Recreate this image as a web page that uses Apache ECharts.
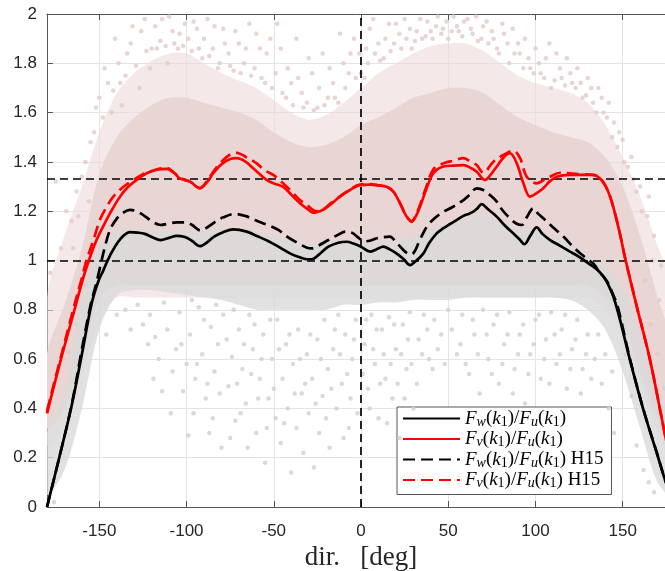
<!DOCTYPE html>
<html>
<head>
<meta charset="utf-8">
<script src="https://cdn.jsdelivr.net/npm/echarts@6/dist/echarts.min.js"></script>
<style>
html,body{margin:0;padding:0;background:#fff;}
#c{width:665px;height:571px;}
</style>
</head>
<body>
<div id="c"></div>
<script>
// ---------- data ----------
const xTicks = [-150, -100, -50, 0, 50, 100, 150];
const refY = [1, 4 / 3];
const refX = [0];

// F_w(k1)/F_u(k1) (solid black)
const fwSolid = [[-180,0.0],[-173,0.2],[-166,0.407],[-160,0.62],[-154.4,0.826],[-150.6,0.915],[-147.7,0.96],[-143.9,1.02],[-138.2,1.085],[-132.5,1.115],[-128,1.113],[-123.9,1.108],[-119,1.092],[-115,1.083],[-110,1.092],[-105.7,1.10],[-101,1.095],[-97,1.08],[-92.3,1.058],[-88,1.075],[-84,1.098],[-79,1.115],[-73.2,1.126],[-66,1.118],[-58.9,1.097],[-53,1.078],[-47.4,1.056],[-41,1.03],[-36,1.015],[-31,1.005],[-28.3,1.005],[-24,1.025],[-18.7,1.056],[-13,1.072],[-8.2,1.076],[-4,1.068],[0,1.056],[5.2,1.036],[9,1.046],[12.8,1.056],[16.5,1.045],[20.5,1.028],[24.5,1.005],[28.1,0.981],[31,0.995],[35.7,1.028],[39,1.07],[43.4,1.11],[47,1.13],[51,1.148],[55,1.165],[58.7,1.181],[62,1.19],[64.4,1.198],[66.5,1.21],[69.2,1.229],[72.5,1.21],[77.8,1.178],[82,1.145],[87.3,1.11],[91,1.085],[93.6,1.066],[97,1.10],[100.7,1.134],[104,1.108],[108.4,1.083],[114,1.06],[119.8,1.036],[125,1.015],[130,0.99],[135.1,0.965],[138.9,0.935],[141.5,0.905],[144.7,0.853],[148.5,0.759],[154.2,0.596],[161.9,0.394],[169.6,0.218],[174.3,0.11],[180,0.0]];

// F_v(k1)/F_u(k1) (solid red)
const fvSolid = [[-180,0.38],[-172,0.60],[-165,0.78],[-159.2,0.93],[-155,1.02],[-151.6,1.083],[-147,1.15],[-143.9,1.191],[-139,1.25],[-134.3,1.293],[-128,1.33],[-122.9,1.354],[-117,1.368],[-111.4,1.372],[-107,1.355],[-103.8,1.333],[-98,1.32],[-92.3,1.293],[-88,1.32],[-84.7,1.354],[-80,1.39],[-75,1.412],[-71.3,1.415],[-66,1.40],[-61.8,1.374],[-54.1,1.327],[-49,1.31],[-44.6,1.299],[-39,1.26],[-35,1.232],[-30,1.205],[-27.4,1.194],[-22,1.205],[-17.8,1.225],[-12,1.26],[-6.3,1.286],[-0.6,1.306],[5,1.308],[10,1.305],[14.7,1.299],[18.5,1.28],[22.4,1.232],[26,1.18],[29.1,1.157],[31.5,1.18],[33.8,1.218],[37.5,1.29],[41.5,1.354],[47.2,1.381],[53,1.385],[58.7,1.387],[63,1.375],[66.3,1.36],[71.1,1.327],[74,1.345],[77.8,1.381],[82,1.42],[85.4,1.435],[89.3,1.394],[93.1,1.313],[96.9,1.259],[100,1.27],[104.5,1.293],[108,1.32],[112.2,1.34],[119.8,1.347],[126,1.347],[133.2,1.347],[137,1.333],[140,1.305],[143,1.255],[146,1.18],[149,1.09],[151.4,1.01],[158.1,0.813],[165.7,0.596],[174.3,0.292],[180,0.1]];

// F_w(k1)/F_u(k1) H15 (dashed black)
const fwH15 = [[-180,0.0],[-173,0.2],[-166,0.41],[-160,0.64],[-155,0.82],[-152,0.90],[-150,0.96],[-147,1.05],[-143.9,1.124],[-140,1.17],[-136,1.195],[-132.5,1.205],[-128,1.198],[-124,1.18],[-119,1.155],[-115,1.144],[-110,1.15],[-105.7,1.155],[-101,1.155],[-97,1.145],[-92,1.122],[-88,1.135],[-84,1.155],[-79,1.175],[-72.2,1.189],[-66,1.18],[-60.8,1.164],[-54,1.145],[-47.4,1.124],[-42,1.095],[-36,1.07],[-31,1.052],[-28.3,1.049],[-24,1.062],[-18.7,1.083],[-13,1.105],[-9,1.117],[-5,1.112],[-1,1.09],[2,1.078],[5,1.08],[9,1.09],[13,1.095],[16.6,1.097],[20,1.075],[24.3,1.043],[27,1.028],[29.1,1.026],[31,1.04],[33.5,1.08],[37.7,1.137],[42,1.17],[47.2,1.198],[52,1.215],[58.7,1.245],[62,1.265],[66.3,1.293],[70.1,1.286],[74,1.265],[77.8,1.239],[81,1.205],[85.4,1.171],[89,1.15],[92.1,1.144],[95,1.175],[98.8,1.212],[101.5,1.19],[104.5,1.171],[110,1.135],[116,1.097],[121,1.06],[125.6,1.029],[130,1.005],[133.5,0.985],[136,0.96],[139,0.935],[141.8,0.907],[144,0.87],[146.6,0.826],[149,0.76],[154.2,0.6],[161.9,0.396],[169.6,0.22],[174.3,0.11],[180,0.0]];

// F_v(k1)/F_u(k1) H15 (dashed red)
const fvH15 = [[-180,0.39],[-172,0.61],[-165,0.80],[-160,0.93],[-157.3,1.002],[-153.5,1.08],[-149.7,1.164],[-146,1.215],[-142,1.259],[-136,1.30],[-130.5,1.327],[-125,1.35],[-121,1.36],[-116,1.372],[-111.4,1.375],[-107,1.355],[-103.8,1.335],[-98,1.32],[-92.3,1.295],[-88,1.325],[-84.7,1.36],[-80,1.40],[-75,1.43],[-71.3,1.437],[-66,1.42],[-59.8,1.394],[-55,1.365],[-50.3,1.347],[-45,1.315],[-40.7,1.286],[-35,1.245],[-31.1,1.225],[-25.4,1.2],[-21,1.21],[-17.8,1.23],[-12,1.26],[-6.3,1.288],[-0.6,1.308],[5,1.31],[10,1.305],[14.7,1.299],[18.5,1.28],[22.4,1.232],[26,1.18],[29.1,1.16],[31.5,1.185],[33.8,1.225],[37.5,1.30],[41.5,1.37],[47.2,1.394],[53,1.405],[58.7,1.415],[63,1.40],[66.3,1.387],[70.1,1.356],[75.9,1.401],[81.6,1.428],[87.3,1.445],[91.2,1.415],[95,1.34],[100.7,1.313],[104.5,1.325],[108.4,1.340],[114.1,1.356],[119.8,1.354],[126,1.35],[133.2,1.347],[137,1.333],[140,1.305],[143,1.255],[146,1.18],[149,1.09],[151.4,1.01],[158.1,0.813],[165.7,0.596],[174.3,0.292],[180,0.1]];

// scatter cloud envelopes (dense regions), [deg, lower, upper]
const pinkOuter = [[-180,0.25,0.85],[-170,0.33,1.10],[-160,0.55,1.30],[-150,0.75,1.52],[-140,0.85,1.68],[-130,0.85,1.76],[-120,0.85,1.81],[-110,0.85,1.84],[-100,0.85,1.84],[-90,0.85,1.80],[-80,0.85,1.76],[-70,0.85,1.73],[-60,0.85,1.70],[-50,0.85,1.65],[-40,0.85,1.60],[-30,0.85,1.57],[-20,0.85,1.59],[-10,0.85,1.64],[0,0.85,1.70],[10,0.85,1.76],[20,0.85,1.80],[30,0.85,1.84],[40,0.85,1.87],[50,0.85,1.88],[60,0.85,1.88],[70,0.85,1.85],[80,0.85,1.80],[90,0.85,1.75],[100,0.85,1.72],[110,0.85,1.70],[120,0.85,1.68],[130,0.85,1.64],[140,0.80,1.55],[150,0.70,1.42],[160,0.50,1.26],[170,0.30,1.06],[180,0.15,0.86]];
const pinkCore = [[-180,0.32,0.62],[-170,0.40,0.82],[-160,0.60,1.05],[-150,0.85,1.35],[-140,0.90,1.50],[-130,0.90,1.58],[-120,0.90,1.63],[-110,0.90,1.66],[-100,0.90,1.66],[-90,0.90,1.64],[-80,0.90,1.62],[-70,0.90,1.60],[-60,0.90,1.57],[-50,0.90,1.52],[-40,0.90,1.48],[-30,0.90,1.46],[-20,0.90,1.47],[-10,0.90,1.50],[0,0.90,1.55],[10,0.90,1.58],[20,0.90,1.62],[30,0.90,1.66],[40,0.90,1.68],[50,0.90,1.70],[60,0.90,1.70],[70,0.90,1.68],[80,0.90,1.63],[90,0.90,1.58],[100,0.90,1.55],[110,0.90,1.52],[120,0.90,1.50],[130,0.90,1.48],[140,0.85,1.42],[150,0.75,1.30],[160,0.55,1.10],[170,0.35,0.85],[180,0.20,0.62]];
const grayCore = [[-180,0.05,0.30],[-170,0.15,0.45],[-160,0.40,0.85],[-150,0.72,1.05],[-140,0.86,1.12],[-130,0.88,1.13],[-120,0.88,1.12],[-110,0.87,1.12],[-100,0.86,1.12],[-90,0.85,1.12],[-80,0.84,1.13],[-70,0.82,1.13],[-60,0.80,1.12],[-50,0.80,1.10],[-40,0.80,1.08],[-30,0.80,1.07],[-20,0.80,1.08],[-10,0.82,1.08],[0,0.82,1.08],[10,0.83,1.08],[20,0.83,1.08],[30,0.84,1.10],[40,0.84,1.13],[50,0.84,1.15],[60,0.85,1.17],[70,0.85,1.18],[80,0.85,1.16],[90,0.85,1.13],[100,0.85,1.12],[110,0.85,1.10],[120,0.84,1.07],[130,0.80,1.02],[140,0.72,0.98],[150,0.55,0.88],[160,0.32,0.70],[170,0.10,0.48],[180,0.03,0.28]];

// sparse points outside the dense regions
const grayDots = [[-176,0.02],[-174,0.52],[-171,0.60],[-168,0.63],[-163,0.74],[-158,0.90],[-128,0.82],[-125,0.74],[-121,0.78],[-118,0.69],[-116,0.60],[-113,0.83],[-111,0.72],[-108,0.55],[-106,0.64],[-104,0.79],[-102,0.47],[-100,0.58],[-98,0.70],[-96,0.38],[-95,0.52],[-93,0.81],[-91,0.62],[-89,0.44],[-87,0.30],[-86,0.73],[-84,0.55],[-82,0.66],[-80,0.24],[-79,0.78],[-76,0.49],[-74,0.61],[-72,0.35],[-70,0.72],[-68,0.56],[-66,0.42],[-64,0.78],[-62,0.64],[-60,0.30],[-58,0.52],[-56,0.70],[-55,0.18],[-53,0.44],[-51,0.60],[-49,0.36],[-48,0.76],[-46,0.26],[-45,0.52],[-43,0.66],[-42,0.40],[-40,0.14],[-39,0.58],[-37,0.32],[-36,0.72],[-34,0.46],[-33,0.22],[-31,0.62],[-30,0.38],[-28,0.52],[-27,0.16],[-25,0.68],[-24,0.30],[-22,0.45],[-21,0.76],[-19,0.56],[-18,0.24],[-16,0.64],[-14,0.40],[-13,0.78],[-11,0.50],[-9,0.70],[-7,0.32],[-5,0.60],[-3,0.76],[2,0.66],[4,0.48],[6,0.78],[8,0.58],[10,0.36],[12,0.72],[14,0.52],[16,0.77],[18,0.44],[20,0.64],[22,0.28],[24,0.74],[26,0.56],[28,0.79],[30,0.40],[33,0.68],[36,0.78],[39,0.60],[42,0.76],[46,0.70],[50,0.80],[55,0.62],[58,0.78],[62,0.54],[65,0.70],[68,0.46],[70,0.80],[73,0.60],[76,0.74],[79,0.50],[82,0.66],[85,0.79],[88,0.56],[91,0.70],[94,0.42],[97,0.62],[100,0.76],[103,0.52],[106,0.68],[109,0.79],[112,0.58],[115,0.72],[118,0.48],[121,0.64],[124,0.76],[127,0.56],[130,0.70],[134,0.60],[138,0.50],[142,0.40],[145,0.30],[152,0.62],[155,0.45],[158,0.25],[162,0.15],[165,0.10],[168,0.06],
  [-146,0.70],[-140,0.78],[-135,0.80],[-132,0.72],[-122,0.66],[-119,0.52],[-114,0.47],[-109,0.38],[-103,0.66],[-99,0.29],[-97,0.84],[-94,0.58],[-90,0.76],[-88,0.50],[-85,0.36],[-83,0.82],[-81,0.46],[-77,0.68],[-75,0.28],[-73,0.80],[-71,0.50],[-69,0.38],[-67,0.66],[-65,0.24],[-63,0.54],[-61,0.74],[-59,0.44],[-57,0.60],[-54,0.32],[-52,0.76],[-50,0.48],[-47,0.64],[-44,0.34],[-41,0.70],[-38,0.46],[-35,0.60],[-32,0.50],[-29,0.70],[-26,0.42],[-23,0.60],[-20,0.36],[-17,0.48],[-15,0.72],[-12,0.62],[-10,0.28],[-8,0.54],[-6,0.44],[-4,0.68],[-2,0.38],[1,0.54],[3,0.76],[5,0.40],[7,0.64],[9,0.72],[11,0.50],[13,0.62],[15,0.34],[17,0.58],[19,0.74],[21,0.50],[23,0.62],[25,0.44],[27,0.68],[29,0.58],[32,0.50],[35,0.62],[38,0.72],[41,0.56],[44,0.64],[48,0.58],[52,0.72],[57,0.66],[60,0.58],[64,0.76],[67,0.62],[72,0.70],[75,0.54],[78,0.78],[81,0.58],[84,0.70],[87,0.46],[90,0.62],[93,0.74],[96,0.54],[99,0.66],[102,0.78],[105,0.60],[108,0.50],[111,0.70],[114,0.62],[117,0.78],[120,0.56],[123,0.68],[126,0.46],[129,0.62],[132,0.52],[136,0.70],[140,0.62],[144,0.55]];
const pinkDots = [[-178,0.95],[-175,1.32],[-172,1.05],[-169,1.20],[-166,1.16],[-163,1.28],[-160,1.34],[-155,1.48],[-152,1.62],[-148,1.58],[-145,1.72],[-142,1.69],[-139,1.80],[-137,1.63],[-135,1.75],[-132,1.88],[-129,1.79],[-126,1.93],[-123,1.85],[-120,1.86],[-118,1.95],[-115,1.89],[-112,1.87],[-110,1.99],[-107,1.88],[-104,1.92],[-102,1.87],[-99,1.90],[-96,1.97],[-93,1.86],[-90,1.90],[-87,1.83],[-84,1.95],[-81,1.80],[-78,1.88],[-75,1.79],[-72,1.93],[-69,1.76],[-66,1.86],[-63,1.75],[-60,1.92],[-57,1.74],[-54,1.84],[-51,1.70],[-48,1.96],[-45,1.68],[-42,1.78],[-39,1.63],[-36,1.74],[-33,1.62],[-30,1.82],[-27,1.61],[-24,1.70],[-21,1.63],[-18,1.78],[-15,1.66],[-12,1.92],[-9,1.70],[-6,1.84],[-3,1.74],[0,1.76],[3,1.86],[5,1.94],[8,1.84],[11,1.81],[14,1.90],[17,1.85],[20,1.96],[23,1.86],[26,1.90],[28,1.94],[31,1.89],[34,1.98],[37,1.91],[40,1.93],[43,1.95],[46,1.92],[49,1.97],[52,1.93],[55,1.95],[58,1.91],[61,1.98],[64,1.92],[67,1.89],[70,1.95],[73,1.88],[76,1.90],[79,1.84],[82,1.92],[85,1.80],[88,1.84],[90,1.88],[93,1.78],[96,1.82],[99,1.76],[102,1.80],[105,1.74],[108,1.88],[111,1.73],[114,1.78],[117,1.71],[120,1.76],[123,1.70],[126,1.72],[129,1.67],[132,1.70],[135,1.60],[138,1.66],[141,1.58],[144,1.50],[147,1.46],[150,1.49],[153,1.38],[156,1.33],[160,1.30],[164,1.18],[168,1.10],[172,0.98],[163,0.92],[166,0.74],[170,0.62],[174,0.48],
  [-165,1.05],[-162,1.18],[-158,1.40],[-156,1.24],[-153,1.52],[-150,1.66],[-147,1.78],[-143,1.60],[-141,1.90],[-138,1.72],[-134,1.84],[-131,1.95],[-127,1.70],[-124,1.98],[-121,1.78],[-117,1.86],[-114,1.98],[-111,1.80],[-108,1.93],[-105,1.86],[-101,1.96],[-97,1.85],[-94,1.94],[-91,1.82],[-88,1.98],[-85,1.86],[-82,1.78],[-79,1.94],[-76,1.84],[-73,1.77],[-70,1.88],[-67,1.80],[-64,1.96],[-61,1.78],[-58,1.86],[-55,1.72],[-52,1.90],[-49,1.76],[-46,1.86],[-43,1.66],[-40,1.72],[-37,1.90],[-34,1.68],[-31,1.64],[-28,1.76],[-25,1.62],[-22,1.84],[-19,1.66],[-16,1.72],[-13,1.64],[-10,1.80],[-7,1.76],[-4,1.90],[-1,1.84],[2,1.74],[4,1.80],[7,1.98],[10,1.88],[13,1.82],[16,1.96],[19,1.88],[22,1.92],[25,1.98],[29,1.86],[32,1.93],[35,1.90],[38,1.97],[41,1.90],[44,1.99],[47,1.94],[50,1.90],[53,1.99],[56,1.93],[59,1.97],[63,1.94],[66,1.99],[69,1.90],[72,1.97],[75,1.93],[78,1.86],[81,1.96],[84,1.88],[87,1.94],[91,1.84],[94,1.90],[97,1.78],[100,1.86],[103,1.76],[106,1.82],[109,1.70],[112,1.84],[115,1.74],[118,1.82],[121,1.72],[124,1.78],[127,1.66],[130,1.74],[133,1.64],[136,1.70],[139,1.60],[142,1.64],[145,1.56],[148,1.52],[151,1.40],[155,1.42],[158,1.28],[161,1.20],[165,1.26],[167,1.00],[171,0.84]];

// ---------- chart ----------
const chart = echarts.init(document.getElementById('c'), null, {renderer: 'canvas'});

function bandSeries(band, fill, z) {
  return {
    type: 'custom',
    silent: true,
    z: z,
    clip: true,
    data: band.map(p => [p[0], p[1]]),
    encode: {x: 0, y: 1},
    renderItem: function (params, api) {
      if (params.dataIndex !== 0) return null;
      const up = band.map(p => api.coord([p[0], p[2]]));
      const lo = band.map(p => api.coord([p[0], p[1]])).reverse();
      return {type: 'polygon', shape: {points: up.concat(lo), smooth: 0.3}, style: {fill: fill}};
    }
  };
}

const serif = "'Liberation Serif', 'DejaVu Serif', serif";
const sans = "'Liberation Sans', Arial, Helvetica, sans-serif";
function texLabel(sub, h15) {
  return '{it|F}{si|' + sub + '}{rm|(}{it|k}{sr|1}{rm|)/}{it|F}{si|u}{rm|(}{it|k}{sr|1}{rm|)}' + (h15 ? '{rm| H15}' : '');
}
const legendNames = {fw: texLabel('w', false), fv: texLabel('v', false), fwH: texLabel('w', true), fvH: texLabel('v', true)};

const dash = [12, 6];
function curve(name, data, color, dashed) {
  return {
    name: name, type: 'line', data: data, z: 10,
    symbol: 'none', smooth: 0.35, silent: true,
    lineStyle: {color: color, width: 2.7, type: dashed ? dash : 'solid'},
    itemStyle: {color: color}
  };
}

const axisColor = '#555555';
const labelColor = '#262626';

chart.setOption({
  animation: false,
  backgroundColor: '#ffffff',
  grid: {left: 47, top: 14, right: -10, bottom: 64, containLabel: false, outerBoundsMode: 'none'},
  xAxis: [{
    type: 'value', min: -180, max: 180, position: 'bottom',
    axisLine: {show: true, onZero: false, lineStyle: {color: axisColor, width: 1}},
    axisTick: {show: true, inside: true, length: 6, customValues: xTicks, lineStyle: {color: axisColor}},
    axisLabel: {customValues: xTicks, margin: 16, color: labelColor, fontSize: 17, fontFamily: sans},
    splitLine: {show: true, lineStyle: {color: '#e4e4e4', width: 1}},
    name: 'dir.   [deg]', nameLocation: 'middle', nameGap: 34,
    nameTextStyle: {fontFamily: serif, fontSize: 27, color: labelColor}
  }, {
    type: 'value', min: -180, max: 180, position: 'top',
    axisLine: {show: true, onZero: false, lineStyle: {color: axisColor, width: 1}},
    axisTick: {show: true, inside: true, length: 6, customValues: xTicks, lineStyle: {color: axisColor}},
    axisLabel: {show: false},
    splitLine: {show: false}
  }],
  yAxis: {
    type: 'value', min: 0, max: 2, interval: 0.2,
    axisLine: {show: true, onZero: false, lineStyle: {color: axisColor, width: 1}},
    axisTick: {show: true, inside: true, length: 6, lineStyle: {color: axisColor}},
    axisLabel: {margin: 10, color: labelColor, fontSize: 17, fontFamily: sans},
    splitLine: {show: true, lineStyle: {color: '#e4e4e4', width: 1}}
  },
  legend: {
    orient: 'vertical', left: 397, top: 407,
    data: ['fw', 'fv', 'fwH', 'fvH'],
    itemWidth: 57, itemHeight: 14, itemGap: 0.5,
    padding: [2, 8, 4, 5],
    backgroundColor: '#ffffff', borderColor: '#555555', borderWidth: 1, borderRadius: 0,
    selectedMode: false,
    itemStyle: {opacity: 0, borderWidth: 0},
    formatter: function (n) { return legendNames[n]; },
    textStyle: {
      color: '#000', fontFamily: serif, fontSize: 19,
      rich: {
        it: {fontFamily: serif, fontStyle: 'italic', fontSize: 19, lineHeight: 21, color: '#000'},
        rm: {fontFamily: serif, fontSize: 19, lineHeight: 21, color: '#000'},
        si: {fontFamily: serif, fontStyle: 'italic', fontSize: 14, lineHeight: 7, verticalAlign: 'bottom', color: '#000'},
        sr: {fontFamily: serif, fontSize: 14, lineHeight: 6, verticalAlign: 'bottom', color: '#000'}
      }
    }
  },
  series: [
    bandSeries(pinkOuter, 'rgba(236,216,216,0.6)', 1),
    bandSeries(pinkCore, '#ead5d5', 2),
    bandSeries(grayCore, 'rgba(218,218,218,0.8)', 3),
    {
      type: 'scatter', data: pinkDots, symbolSize: 4.5, silent: true, z: 4,
      itemStyle: {color: '#e4c9c9'}
    },
    {
      type: 'scatter', data: grayDots, symbolSize: 4.5, silent: true, z: 4,
      itemStyle: {color: '#cfcfcf'},
      markLine: {
        silent: true, symbol: 'none', z: 6,
        label: {show: false},
        lineStyle: {color: '#000000', width: 1.7, type: [8, 5]},
        data: refY.map(v => ({yAxis: v})).concat(refX.map(v => ({xAxis: v})))
      }
    },
    curve('fw', fwSolid, '#000000', false),
    curve('fv', fvSolid, '#ff0000', false),
    curve('fwH', fwH15, '#000000', true),
    curve('fvH', fvH15, '#ff0000', true)
  ]
});
</script>
</body>
</html>
